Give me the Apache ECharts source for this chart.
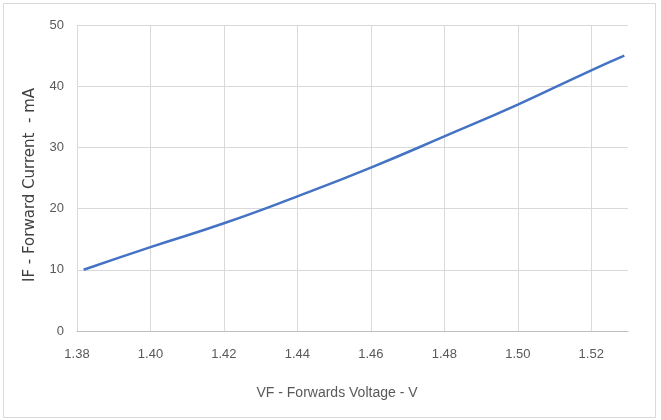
<!DOCTYPE html>
<html>
<head>
<meta charset="utf-8">
<script src="https://cdn.jsdelivr.net/npm/echarts@6/dist/echarts.min.js"></script>
<style>
html,body{margin:0;padding:0;background:#fff;}
#c{width:661px;height:420px;}
</style>
</head>
<body>
<div id="c"></div>
<script>
// Data
var voltage = [1.3818, 1.40, 1.42, 1.44, 1.46, 1.48, 1.50, 1.52, 1.529];
var current = [10.0, 13.7, 17.6, 22.0, 26.7, 31.8, 37.0, 42.6, 45.0];
var xTicks = { min: 1.38, max: 1.53, step: 0.02 };
var yTicks = { min: 0, max: 50, step: 10 };
var xTitle = 'VF - Forwards Voltage - V';
var yTitle = 'IF - Forward Current  - mA';

var points = voltage.map(function (v, i) { return [v, current[i]]; });

var chart = echarts.init(document.getElementById('c'), null, { renderer: 'canvas' });
var labelFont = '"Liberation Sans", Arial, sans-serif';
chart.setOption({
  animation: false,
  backgroundColor: '#ffffff',
  grid: { left: 77, right: 33, top: 25, bottom: 89, containLabel: false },
  xAxis: {
    type: 'value',
    min: xTicks.min, max: xTicks.max, interval: xTicks.step,
    axisLine: { show: true, lineStyle: { color: '#bfbfbf', width: 1 } },
    axisTick: { show: false },
    axisLabel: {
      color: '#595959', fontSize: 13, fontFamily: labelFont, margin: 17,
      showMaxLabel: false,
      formatter: function (v) { return v.toFixed(2); }
    },
    splitLine: { show: true, showMinLine: true, showMaxLine: false, lineStyle: { color: '#d9d9d9', width: 1 } }
  },
  yAxis: {
    type: 'value',
    min: yTicks.min, max: yTicks.max, interval: yTicks.step,
    axisLine: { show: false },
    axisTick: { show: false },
    axisLabel: { color: '#595959', fontSize: 13, fontFamily: labelFont, margin: 13 },
    splitLine: { show: true, lineStyle: { color: '#d9d9d9', width: 1 } }
  },
  series: [{
    type: 'line',
    data: points,
    smooth: 0.5,
    showSymbol: false,
    lineStyle: { color: '#4472c4', width: 2.5 },
    itemStyle: { color: '#4472c4' }
  }],
  graphic: [
    {
      type: 'rect', silent: true, z: -10,
      shape: { x: 3.5, y: 3.5, width: 652, height: 414 },
      style: { fill: 'none', stroke: '#d9d9d9', lineWidth: 1 }
    },
    {
      type: 'text', silent: true,
      x: 337, y: 393,
      style: { text: xTitle, fill: '#595959', font: '14px ' + labelFont, textAlign: 'center', textVerticalAlign: 'middle' }
    },
    {
      type: 'text', silent: true,
      x: 30, y: 185, rotation: Math.PI / 2,
      style: { text: yTitle, fill: '#404040', font: '15px "DejaVu Sans", sans-serif', textAlign: 'center', textVerticalAlign: 'middle' }
    }
  ]
});
</script>
</body>
</html>
